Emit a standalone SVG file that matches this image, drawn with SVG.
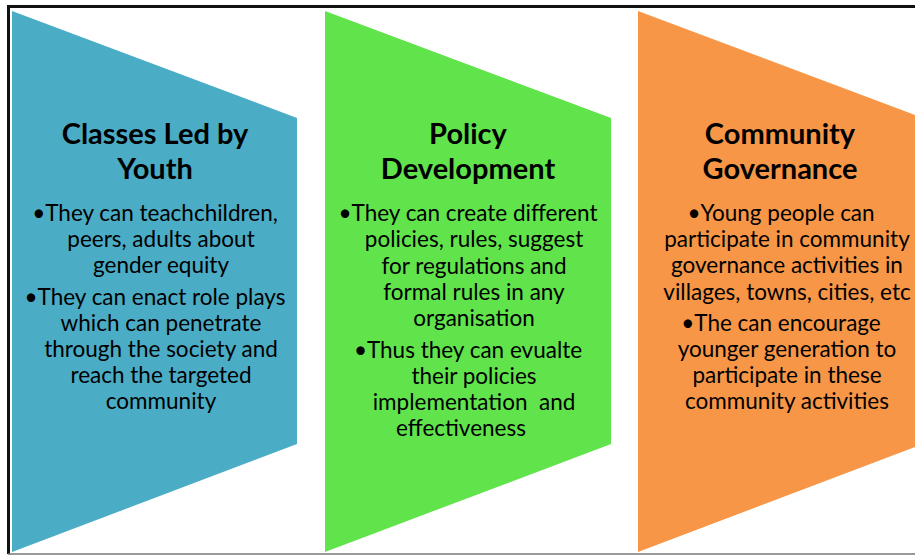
<svg xmlns="http://www.w3.org/2000/svg" width="915" height="555" viewBox="0 0 915 555">
<style>
.t{font-family:Lato,"Open Sans","Liberation Sans",sans-serif;font-weight:bold;font-size:29px;fill:#000;text-anchor:middle}
.b{font-family:Lato,"Open Sans","Liberation Sans",sans-serif;font-size:22.5px;fill:#000;text-anchor:middle}
</style>
<rect x="0" y="0" width="915" height="555" fill="#fff"/>
<path d="M8.5 554 V6.5 H925" fill="none" stroke="#111" stroke-width="3"/>
<line x1="8" y1="554" x2="915" y2="554" stroke="#777" stroke-width="1.5"/>
<g id="classes">
<polygon points="12,11 297,118 297,444 12,552" fill="#4BACC6"/>
<text class="t" x="155" y="144">Classes Led by</text>
<text class="t" x="155" y="179">Youth</text>
<text class="b" x="155" y="221">•They can teachchildren,</text>
<text class="b" x="161" y="247">peers, adults about</text>
<text class="b" x="161" y="273">gender equity</text>
<text class="b" x="155" y="305">•They can enact role plays</text>
<text class="b" x="161" y="331">which can penetrate</text>
<text class="b" x="161" y="357">through the society and</text>
<text class="b" x="161" y="383">reach the targeted</text>
<text class="b" x="161" y="409">community</text>
</g>
<g id="policy">
<polygon points="325,11 611,118 611,444 325,552" fill="#61E34B"/>
<text class="t" x="468" y="144">Policy</text>
<text class="t" x="468" y="179">Development</text>
<text class="b" x="468" y="221">•They can create different</text>
<text class="b" x="474" y="247">policies, rules, suggest</text>
<text class="b" x="474" y="274">for regulations and</text>
<text class="b" x="474" y="300">formal rules in any</text>
<text class="b" x="474" y="326">organisation</text>
<text class="b" x="468" y="358">•Thus they can evualte</text>
<text class="b" x="474" y="384">their policies</text>
<text class="b" x="474" y="410" xml:space="preserve">implementation  and</text>
<text class="b" x="461" y="436">effectiveness</text>
</g>
<g id="community">
<polygon points="638,11 923,118 923,444 638,552" fill="#F79646"/>
<text class="t" x="780" y="144">Community</text>
<text class="t" x="780" y="179">Governance</text>
<text class="b" x="781" y="221">•Young people can</text>
<text class="b" x="787" y="247">participate in community</text>
<text class="b" x="787" y="273">governance activities in</text>
<text class="b" x="787" y="300">villages, towns, cities, etc</text>
<text class="b" x="781" y="331">•The can encourage</text>
<text class="b" x="787" y="357">younger generation to</text>
<text class="b" x="787" y="383">participate in these</text>
<text class="b" x="787" y="409">community activities</text>
</g>
<g id="connectors"></g>
</svg>
